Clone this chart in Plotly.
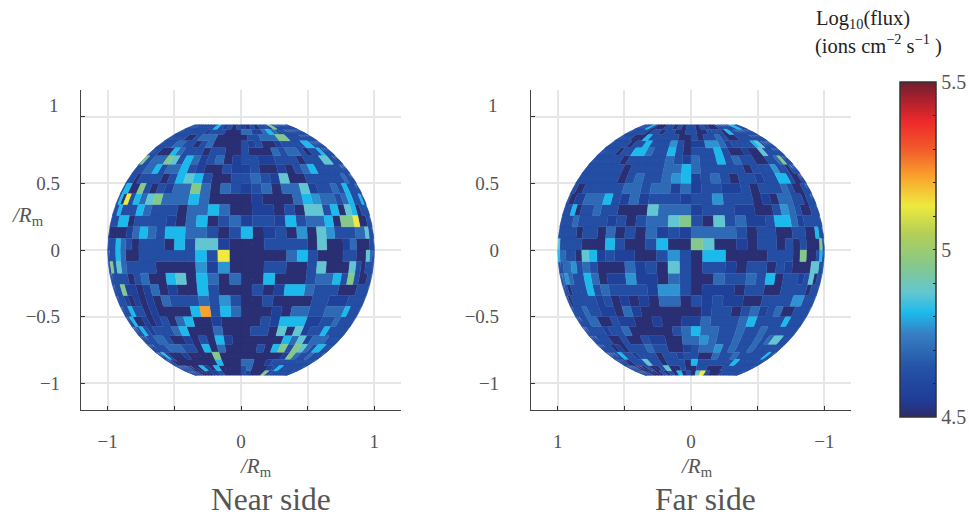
import numpy as np
import plotly.graph_objects as go
from plotly.colors import sample_colorscale

W, H = 969, 516

# flux level (log10) for each digit used in the cell rows below
flux_levels = [4.51, 4.57, 4.63, 4.70, 4.77, 4.81, 4.87, 4.95, 5.13, 5.22]

lat_edges = list(range(70, -75, -5))
lon_step = 5

# rows run north to south, columns run left to right on screen
near_rows = [
    "222222222222521202102022172222222222",
    "222222222221222000331135322222222222",
    "222222220023330000022333772222222222",
    "222222233220230000212001222255222222",
    "222220005322202200200032332022522222",
    "277223337625312301221122202226622222",
    "222223352335210021120010235222222222",
    "222202222025652002232160022222232222",
    "225500720213373032123033612232522222",
    "225082536733353000010003543323522522",
    "222522253222033530011020662506502222",
    "222255022221035023122152335077800222",
    "200000135325533202501204064222336222",
    "222253202220526610002222060013000222",
    "222253002222225280000035200022006322",
    "227263222200004140002200260006202222",
    "222222023005605303005000233527200222",
    "222271101301005200020155322200022222",
    "222210101032223242002000022111222222",
    "222252201000059253000103322333522222",
    "222500101203500100002155511223222222",
    "222252122235000300022060612252222222",
    "222222332001020510000005361333222222",
    "222222233322050300002057276325522222",
    "222251000100007000000000173223222222",
    "222200000000005000330012222222222222",
    "222222200051050000230001252222222222",
    "222222200001120000210007122222222222",
]

far_rows = [
    "222222252000220202202100222225522222",
    "222222222022022002200222052222222222",
    "222222200052222200202232002222222222",
    "222222220225222420114431222256222222",
    "222222202255322520222520010062222222",
    "222222222022222321322523220022372222",
    "222222222202222335322222022242202222",
    "222222222202322345123202212255200222",
    "222002222223323313122112022232002222",
    "220011333521312221224222010332202222",
    "222250223220006333122211002432002222",
    "222223222212023367206231125531222222",
    "222222022030203121333320220022005222",
    "662222200052002500760010220202000722",
    "553322065121100242055000022207002522",
    "222334232000312062022102202100066222",
    "223432253011411032003223250221260222",
    "222022252322221442011102200222202222",
    "220222221201010330212110022224422222",
    "222223221103100000012202312300222222",
    "222223300211001001132223522225222222",
    "222222212230000023533223223222222222",
    "222222200200211003343223223236622222",
    "222222010222322001233423223222222222",
    "222222522122202212200322322222252222",
    "222220022262202220522222252222222222",
    "222222000200260020022000222222222222",
    "222222200002020502068200022222222222",
]

x_ticks = [-1, -0.5, 0, 0.5, 1]
x_labels = ["\u22121", "", "0", "", "1"]
y_ticks = [-1, -0.5, 0, 0.5, 1]
y_labels = ["\u22121", "\u22120.5", "0", "0.5", ""]
top_y_label = "1"
cbar_ticks = [4.5, 4.6, 4.7, 4.8, 4.9, 5.0, 5.1, 5.2, 5.3, 5.4, 5.5]
cbar_labels = ["4.5", "", "", "", "", "5", "", "", "", "", "5.5"]

flux_min, flux_max = 4.5, 5.5
stop_values = [4.50, 4.55, 4.65, 4.75, 4.81, 4.87, 4.95, 5.05, 5.13, 5.22, 5.30, 5.38, 5.45, 5.50]
stop_colors = ["#2d2c6b", "#1f3c96", "#2553a8", "#3780c4", "#1cb9ec", "#62c6d2", "#84c88c",
               "#b5cf55", "#eeea3f", "#f9a12c", "#f15a2a", "#ee2a2a", "#a8202e", "#6e1f2e"]
colorscale = [[(v - flux_min) / (flux_max - flux_min), c] for v, c in zip(stop_values, stop_colors)]

SERIF = "Liberation Serif"
GREY = "#555555"


def sphere_xy(lon_deg, lat_deg):
    lon, lat = np.radians(lon_deg), np.radians(lat_deg)
    return np.cos(lat) * np.sin(lon), np.sin(lat)


def cell_outline(lon0, lon1, lat0, lat1):
    t = np.linspace(0, 1, 4)
    lons = np.concatenate([lon0 + (lon1 - lon0) * t, np.full(4, lon1), lon1 + (lon0 - lon1) * t, np.full(4, lon0)])
    lats = np.concatenate([np.full(4, lat0), lat0 + (lat1 - lat0) * t, np.full(4, lat1), lat1 + (lat0 - lat1) * t])
    return sphere_xy(lons, lats)


def level_traces(rows, sign, xaxis, yaxis):
    traces = []
    for digit, value in enumerate(flux_levels):
        xs, ys = [], []
        for r, row in enumerate(rows):
            for c, ch in enumerate(row):
                if int(ch) != digit:
                    continue
                lon0 = sign * (-90 + lon_step * c)
                lon1 = sign * (-90 + lon_step * (c + 1))
                px_, py_ = cell_outline(lon0, lon1, lat_edges[r + 1], lat_edges[r])
                xs += px_.tolist() + [None]
                ys += py_.tolist() + [None]
        if not xs:
            continue
        color = sample_colorscale(colorscale, (value - flux_min) / (flux_max - flux_min))[0]
        traces.append(go.Scatter(x=xs, y=ys, mode="lines", fill="toself", fillcolor=color,
                                 line=dict(color=color, width=0.4), hoverinfo="skip",
                                 showlegend=False, xaxis=xaxis, yaxis=yaxis))
    return traces


fig = go.Figure()
for tr in level_traces(near_rows, 1, "x", "y"):
    fig.add_trace(tr)
for tr in level_traces(far_rows, -1, "x2", "y2"):
    fig.add_trace(tr)

fig.add_trace(go.Scatter(
    x=[None], y=[None], mode="markers", showlegend=False, hoverinfo="skip",
    marker=dict(color=[flux_min], cmin=flux_min, cmax=flux_max, colorscale=colorscale, showscale=True,
                colorbar=dict(thickness=36, thicknessmode="pixels", len=335, lenmode="pixels",
                              x=900 / W, xanchor="left", xpad=0, y=1 - 82 / H, yanchor="top", ypad=0,
                              outlinecolor="#333333", outlinewidth=1.5, borderwidth=0,
                              tickmode="array", tickvals=cbar_ticks, ticktext=cbar_labels,
                              ticks="inside", ticklen=3, tickcolor="#222222", tickwidth=1,
                              tickfont=dict(family=SERIF, size=20, color=GREY))),
))


def axis(domain, tickvals, ticktext, rng, anchor, standoff):
    return dict(domain=domain, range=rng, tickmode="array", tickvals=tickvals, ticktext=ticktext,
                ticks="inside", ticklen=4, tickcolor="#333333", tickwidth=1,
                showgrid=True, gridcolor="#e6e6e6", gridwidth=1.6, zeroline=False,
                showline=True, linecolor="#444444", linewidth=1.2, anchor=anchor,
                tickfont=dict(family=SERIF, size=19, color=GREY), ticklabelstandoff=standoff)


dy = [1 - 410 / H, 1 - 90 / H]
fig.update_layout(
    width=W, height=H, margin=dict(l=0, r=0, t=0, b=0, autoexpand=False),
    paper_bgcolor="white", plot_bgcolor="white",
    xaxis=axis([81 / W, 401 / W], x_ticks, x_labels, [-1.2, 1.2], "y", 14),
    yaxis=axis(dy, y_ticks, y_labels, [-1.2, 1.2], "x", 16),
    xaxis2=axis([531 / W, 851 / W], x_ticks, x_labels, [1.2, -1.2], "y2", 14),
    yaxis2=axis(dy, y_ticks, y_labels, [-1.2, 1.2], "x2", 27),
)


def note(text, x, y, size, color=GREY, anchor="center"):
    fig.add_annotation(text=text, xref="paper", yref="paper", x=x / W, y=1 - y / H, showarrow=False,
                       xanchor=anchor, yanchor="middle", font=dict(family=SERIF, size=size, color=color))


rm = "<i>/R</i><sub>m</sub>"
note(rm, 256, 467, 21)
note(rm, 697, 467, 21)
note(rm, 28, 216, 21)
note(top_y_label, 54, 105, 19)
note(top_y_label, 493, 105, 19)
note("Near side", 271, 499, 31.5)
note("Far side", 705, 499, 31.5)
note("Log<sub>10</sub>(flux)", 814, 20, 20.5, "#222222", "left")
note("(ions cm<sup>\u22122</sup> s<sup>\u22121</sup> )", 813, 44, 20.5, "#222222", "left")

fig.write_html("out.html", post_script="document.body.style.margin='0';",
               config={"displayModeBar": False})
